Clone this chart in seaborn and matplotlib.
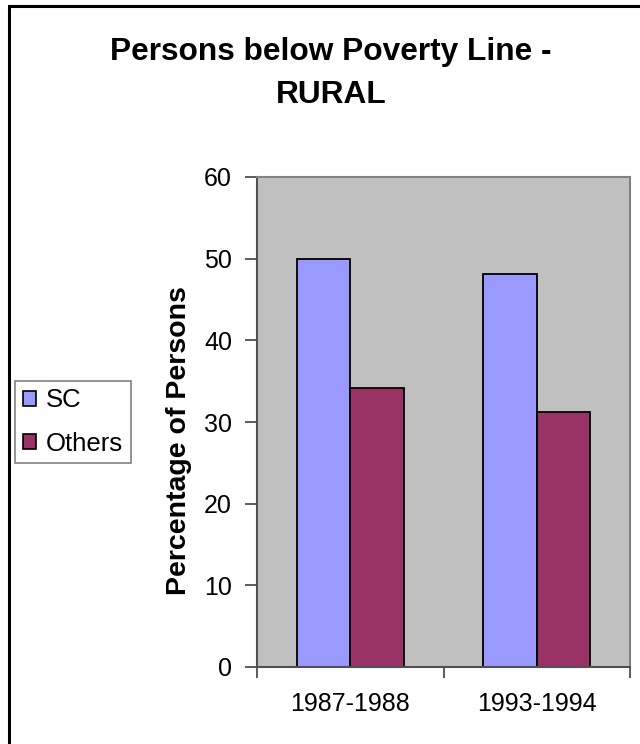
import matplotlib
matplotlib.use("Agg")
import matplotlib.pyplot as plt
from matplotlib.patches import Rectangle, Patch
import seaborn as sns
import pandas as pd

# Data
periods = ["1987-1988", "1993-1994"]
groups = ["SC", "Others"]
sc_values = [50.0, 48.1]
others_values = [34.2, 31.2]
colors = ["#9999FF", "#993366"]
yticks = [0, 10, 20, 30, 40, 50, 60]

df = pd.DataFrame({
    "period": periods * 2,
    "group": [groups[0]] * len(periods) + [groups[1]] * len(periods),
    "value": sc_values + others_values,
})

sns.set_theme(style="white")
plt.rcParams["font.family"] = ["Liberation Sans", "DejaVu Sans"]
plt.rcParams["text.color"] = "black"
plt.rcParams["xtick.color"] = "black"
plt.rcParams["ytick.color"] = "black"

W, H = 640, 744
fig = plt.figure(figsize=(W / 100, H / 100), dpi=100)
ax = fig.add_axes([257 / W, 1 - 667 / H, (630 - 257) / W, (667 - 177) / H])
ax.set_facecolor("#C0C0C0")

sns.barplot(data=df, x="period", y="value", hue="group", order=periods,
            hue_order=groups, palette=colors, saturation=1, width=2 / 3.5,
            edgecolor="black", linewidth=1.3, ax=ax)
if ax.get_legend() is not None:
    ax.get_legend().remove()

ax.set_xlim(-0.5, len(periods) - 0.5)
ax.set_ylim(0, 60)
ax.set_yticks(yticks)
ax.set_yticklabels([str(t) for t in yticks], fontsize=18, color="black")
ax.set_xticks(range(len(periods)))
ax.set_xticklabels(periods, fontsize=18, color="black")
ax.set_xticks([-0.5, 0.5, 1.5], minor=True)
ax.tick_params(axis="x", which="major", length=0, pad=18)
ax.tick_params(axis="x", which="minor", length=8, width=1.2, color="#404040",
               direction="out", bottom=True)
ax.tick_params(axis="y", length=9, width=1.2, color="#404040", pad=9,
               direction="out", left=True)
ax.set_xlabel("")
ax.set_ylabel("")
for side, sp in ax.spines.items():
    sp.set_visible(True)
    sp.set_color("#808080")
    sp.set_linewidth(1.5)
ax.spines["left"].set_color("#505050")
ax.spines["bottom"].set_color("#505050")

# Axis title
fig.text(179 / W, 1 - 441 / H, "Percentage of Persons", rotation=90,
         ha="center", va="center", fontsize=20.5, fontweight="bold",
         color="black")

# Chart title
fig.text(331 / W, 1 - 60 / H, "Persons below Poverty Line -", ha="center",
         va="baseline", fontsize=22.8, fontweight="bold", color="black")
fig.text(331 / W, 1 - 103 / H, "RURAL", ha="center", va="baseline",
         fontsize=22.8, fontweight="bold", color="black")

# Legend
handles = [Patch(facecolor=c, edgecolor="black", linewidth=1.2) for c in colors]
leg = fig.legend(handles, groups, loc="center left",
                 bbox_to_anchor=(15 / W, 1 - 422 / H), fontsize=18.5,
                 frameon=True, fancybox=False, edgecolor="#808080",
                 framealpha=1, handlelength=0.5, handleheight=0.5,
                 handletextpad=0.4, labelspacing=0.75, borderpad=0.3,
                 borderaxespad=0)
leg.get_frame().set_linewidth(1.2)
for t in leg.get_texts():
    t.set_color("black")

# Chart area outline
fig.patches.append(Rectangle((8.5 / W, -0.05), 1.2, 1 - 5.5 / H + 0.05,
                             transform=fig.transFigure, fill=False,
                             edgecolor="black", linewidth=2.2))

fig.savefig("out.png", dpi=100)
